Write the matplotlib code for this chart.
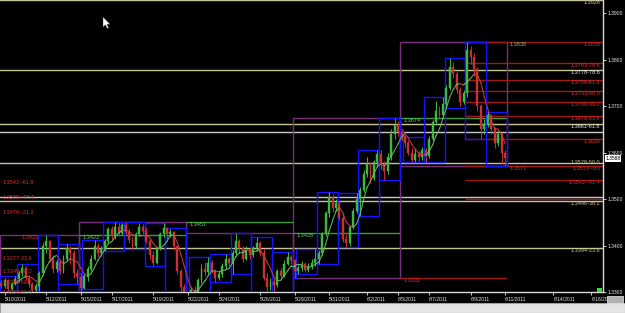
import matplotlib
matplotlib.use("Agg")
import matplotlib.pyplot as plt
from matplotlib.patches import Rectangle, Polygon
import numpy as np

# ---------------- data (4H candles, 5/10/2011 - 6/10/2011) ----------------
open0 = 1.3320
close = [
    # Tue 5/10
    1.3312, 1.3325, 1.3306, 1.3318, 1.3328,
    # Wed 5/11
    1.3340, 1.3352, 1.3331, 1.3318, 1.3305, 1.3312,
    # Thu 5/12
    1.3340, 1.3398, 1.3410, 1.3372, 1.3350, 1.3365,
    # Fri 5/13
    1.3345, 1.3372, 1.3395, 1.3385, 1.3340, 1.3332,
    # Sun 5/15
    1.3308,
    # Mon 5/16
    1.3335, 1.3350, 1.3372, 1.3400, 1.3385, 1.3392,
    # Tue 5/17
    1.3410, 1.3435, 1.3420, 1.3440, 1.3428, 1.3445,
    # Wed 5/18
    1.3430, 1.3412, 1.3398, 1.3425, 1.3440, 1.3432,
    # Thu 5/19
    1.3410, 1.3380, 1.3362, 1.3395, 1.3425, 1.3438,
    # Fri 5/20
    1.3425, 1.3430, 1.3398, 1.3345, 1.3310, 1.3298,
    # Sun 5/22
    1.3292,
    # Mon 5/23
    1.3305, 1.3298, 1.3325, 1.3350, 1.3342, 1.3362,
    # Tue 5/24
    1.3345, 1.3330, 1.3338, 1.3355, 1.3370, 1.3362,
    # Wed 5/25
    1.3385, 1.3410, 1.3395, 1.3372, 1.3390, 1.3380,
    # Thu 5/26
    1.3395, 1.3405, 1.3385, 1.3330, 1.3310, 1.3322,
    # Fri 5/27
    1.3315, 1.3345, 1.3335, 1.3360, 1.3375, 1.3368,
    # Sun 5/29
    1.3345,
    # Mon 5/30
    1.3352, 1.3360, 1.3348, 1.3356, 1.3362, 1.3370,
    # Tue 5/31
    1.3385, 1.3425, 1.3470, 1.3505, 1.3480, 1.3492,
    # Wed 6/1
    1.3460, 1.3415, 1.3405, 1.3440, 1.3475, 1.3500,
    # Thu 6/2
    1.3520, 1.3555, 1.3575, 1.3545, 1.3580, 1.3598,
    # Fri 6/3
    1.3575, 1.3560, 1.3590, 1.3640, 1.3660, 1.3645,
    # Sun 6/5
    1.3635,
    # Mon 6/6
    1.3620, 1.3600, 1.3585, 1.3598, 1.3590, 1.3605,
    # Tue 6/7
    1.3592, 1.3630, 1.3665, 1.3690, 1.3680, 1.3705,
    # Wed 6/8
    1.3740, 1.3785, 1.3770, 1.3735, 1.3710, 1.3728,
    # Thu 6/9
    1.3820, 1.3805, 1.3780, 1.3700, 1.3650, 1.3662,
    # Fri 6/10
    1.3680, 1.3650, 1.3620, 1.3640, 1.3600, 1.3588,
]
high = [
    1.3326, 1.3330, 1.3327, 1.3322, 1.3334,
    1.3345, 1.3360, 1.3356, 1.3336, 1.3322, 1.3320,
    1.3345, 1.3405, 1.3422, 1.3412, 1.3380, 1.3372,
    1.3370, 1.3380, 1.3403, 1.3400, 1.3390, 1.3350,
    1.3340,
    1.3340, 1.3356, 1.3380, 1.3411, 1.3405, 1.3398,
    1.3415, 1.3440, 1.3442, 1.3450, 1.3448, 1.3449,
    1.3451, 1.3435, 1.3418, 1.3430, 1.3448, 1.3446,
    1.3440, 1.3415, 1.3388, 1.3400, 1.3430, 1.3448,
    1.3438, 1.3436, 1.3432, 1.3400, 1.3350, 1.3318,
    1.3300,
    1.3310, 1.3312, 1.3330, 1.3360, 1.3365, 1.3375,
    1.3368, 1.3350, 1.3345, 1.3362, 1.3381, 1.3376,
    1.3390, 1.3428, 1.3415, 1.3400, 1.3398, 1.3395,
    1.3400, 1.3418, 1.3410, 1.3392, 1.3340, 1.3330,
    1.3330, 1.3350, 1.3352, 1.3368, 1.3386, 1.3380,
    1.3360,
    1.3358, 1.3366, 1.3364, 1.3362, 1.3370, 1.3392,
    1.3390, 1.3430, 1.3475, 1.3516, 1.3510, 1.3500,
    1.3495, 1.3468, 1.3425, 1.3445, 1.3480, 1.3514,
    1.3525, 1.3562, 1.3590, 1.3580, 1.3585, 1.3606,
    1.3605, 1.3582, 1.3600, 1.3650, 1.3674, 1.3668,
    1.3650,
    1.3634, 1.3628, 1.3610, 1.3608, 1.3604, 1.3612,
    1.3610, 1.3635, 1.3670, 1.3712, 1.3700, 1.3720,
    1.3745, 1.3804, 1.3795, 1.3775, 1.3742, 1.3735,
    1.3838, 1.3830, 1.3815, 1.3785, 1.3705, 1.3672,
    1.3688, 1.3684, 1.3655, 1.3648, 1.3642, 1.3605,
]
low = [
    1.3308, 1.3309, 1.3302, 1.3304, 1.3314,
    1.3322, 1.3334, 1.3326, 1.3310, 1.3300, 1.3301,
    1.3303, 1.3336, 1.3385, 1.3365, 1.3340, 1.3344,
    1.3338, 1.3340, 1.3368, 1.3360, 1.3330, 1.3317,
    1.3300,
    1.3306, 1.3324, 1.3345, 1.3368, 1.3375, 1.3378,
    1.3388, 1.3405, 1.3412, 1.3415, 1.3420, 1.3422,
    1.3425, 1.3405, 1.3392, 1.3395, 1.3420, 1.3425,
    1.3405, 1.3372, 1.3356, 1.3360, 1.3390, 1.3418,
    1.3415, 1.3418, 1.3390, 1.3338, 1.3288, 1.3290,
    1.3285,
    1.3288, 1.3290, 1.3295, 1.3320, 1.3335, 1.3338,
    1.3340, 1.3321, 1.3325, 1.3332, 1.3350, 1.3355,
    1.3339, 1.3380, 1.3385, 1.3365, 1.3368, 1.3372,
    1.3375, 1.3388, 1.3378, 1.3325, 1.3296, 1.3305,
    1.3300, 1.3310, 1.3328, 1.3332, 1.3358, 1.3360,
    1.3331,
    1.3339, 1.3345, 1.3342, 1.3344, 1.3350, 1.3355,
    1.3360, 1.3380, 1.3420, 1.3462, 1.3472, 1.3475,
    1.3455, 1.3408, 1.3396, 1.3400, 1.3435, 1.3470,
    1.3463, 1.3515, 1.3548, 1.3535, 1.3540, 1.3570,
    1.3565, 1.3542, 1.3555, 1.3585, 1.3630, 1.3635,
    1.3628,
    1.3612, 1.3595, 1.3579, 1.3580, 1.3582, 1.3585,
    1.3579, 1.3588, 1.3625, 1.3660, 1.3672, 1.3675,
    1.3696, 1.3735, 1.3760, 1.3728, 1.3700, 1.3705,
    1.3720, 1.3790, 1.3765, 1.3690, 1.3629, 1.3640,
    1.3655, 1.3640, 1.3610, 1.3615, 1.3575, 1.3571,
]
day_sizes = [5, 6, 6, 6,
             1, 6, 6, 6, 6, 6,
             1, 6, 6, 6, 6, 6,
             1, 6, 6, 6, 6, 6,
             1, 6, 6, 6, 6, 6]
week_sizes = [23, 31, 31, 31, 31]

date_labels = ["5/10/2011", "5/12/2011", "5/15/2011", "5/17/2011", "5/19/2011",
               "5/22/2011", "5/24/2011", "5/26/2011", "5/29/2011", "5/31/2011",
               "6/2/2011", "6/5/2011", "6/7/2011", "6/9/2011", "6/11/2011",
               "6/14/2011", "6/16/2011"]
date_idx = [1, 13, 23, 32, 44, 54, 63, 75, 85, 95, 106, 115, 124, 136, 146, 160, 171]

price_ticks = [1.3300, 1.3400, 1.3500, 1.3600, 1.3700, 1.3800, 1.3900]

# full-width horizontal fib levels
khaki_levels = [1.3928, 1.3778, 1.3661, 1.3578, 1.3496, 1.3394]
gray_levels = [1.3645, 1.3504]

# red fib lines on the right (start at Thu 6/9)
red_levels = [1.3838, 1.3793, 1.3756, 1.3733, 1.3708, 1.3678, 1.3629, 1.3572, 1.3542, 1.3500]
red_start_idx = 135

# right-side labels
right_texts = ["1.3928", "1.3838", "1.3793-78.6", "1.3778-78.6", "1.3756-61.8",
               "1.3733-50.0", "1.3708-38.2", "1.3678-23.6", "1.3661-61.8",
               "1.3629", "1.3578-50.0", "1.3572--0.0", "1.3542--41.4",
               "1.3496-38.2", "1.3394-23.6"]
right_vals = [1.3928, 1.3838, 1.3793, 1.3778, 1.3756, 1.3733, 1.3708, 1.3678, 1.3661,
              1.3629, 1.3578, 1.3572, 1.3542, 1.3496, 1.3394]
right_kind = ["k", "r", "r", "w", "r", "r", "r", "r", "w", "r", "k", "r", "r", "k", "k"]
right_va = ["top", "top", "top", "top", "top", "top", "top", "top", "top",
            "top", "center", "top", "top", "top", "top"]

# left-side red labels
left_texts = ["1.3542--61.8", "1.3509--47.4", "1.3476--21.2", "1.3377-23.6",
              "1.3349-38.2", "1.3326-50.0", "1.3304-61.8"]
left_vals = [1.3542, 1.3509, 1.3476, 1.3377, 1.3349, 1.3326, 1.3304]
left_mark_text = "1.3423"
left_mark_val = 1.3423
left_mark_idx = 6

last_price = close[-1]

# ---------------- style ----------------
BG = "black"
UP = "#3fb83f"
DN = "#c83232"
BLUE = "#1414ff"
PURPLE = "#7a2f7a"
KHAKI = "#c8c49a"
GRAY = "#c8c8c8"
FIBRED = "#a01818"
TXTRED = "#d83030"
GREEN_TXT = "#5fd35f"
FS = 4.0
FS_AX = 3.6
plt.rcParams["font.family"] = ["Liberation Sans", "DejaVu Sans"]

W, H = 625, 313
fig = plt.figure(figsize=(W / 100, H / 100), dpi=100, facecolor=BG)
ax = fig.add_axes([0, 21 / H, 603 / W, 292 / H], facecolor=BG)

n = len(close)
idx = np.arange(n)
opens = [open0] + close[:-1]
YMIN, YMAX = 1.33021, 1.39285


def ranges(sizes):
    out, s = [], 0
    for k in sizes:
        out.append((s, s + k - 1))
        s += k
    return out


days = ranges(day_sizes)
weeks = ranges(week_sizes)

# full-width level lines
for lv in khaki_levels:
    ax.axhline(lv, color=KHAKI, lw=1.0, zorder=1)
for lv in gray_levels:
    ax.axhline(lv, color=GRAY, lw=1.0, zorder=1)

# weekly boxes
for (s, e) in weeks:
    hi = max(high[s:e + 1]); lo = min(low[s:e + 1])
    ax.add_patch(Rectangle((s - 0.5, lo), e - s + 1, hi - lo, fill=False,
                           ec=PURPLE, lw=1.0, zorder=2))

# previous-week high / low carried into next week
for w in range(1, len(weeks)):
    ps, pe = weeks[w - 1]
    s, e = weeks[w]
    phi = max(high[ps:pe + 1]); plo = min(low[ps:pe + 1])
    ax.hlines(phi, s - 0.5, e + 0.5, color="#3c9a3c", lw=1.0, zorder=2)
    ax.hlines(plo, s - 0.5, e + 0.5, color=FIBRED, lw=1.0, zorder=2)
    ax.text(s + 0.5, phi, f"{phi:.4f}", color=GREEN_TXT, fontsize=FS, va="top", ha="left",
            zorder=6)
    if plo > YMIN + 0.0008:
        ax.text(s + 0.5, plo, f"{plo:.4f}", color=TXTRED, fontsize=FS, va="top", ha="left",
                zorder=6)

# current week high/low labels
s, e = weeks[-1]
whi = max(high[s:e + 1]); wlo = min(low[s:e + 1])
ax.text(e + 1.2, whi, f"{whi:.4f}", color=GREEN_TXT, fontsize=FS, va="top", ha="left", zorder=6)
ax.text(e + 1.2, wlo, f"{wlo:.4f}", color=TXTRED, fontsize=FS, va="top", ha="left", zorder=6)

# daily boxes
for (s, e) in days:
    hi = max(high[s:e + 1]); lo = min(low[s:e + 1])
    ax.add_patch(Rectangle((s - 0.5, lo), e - s + 1, hi - lo, fill=False,
                           ec=BLUE, lw=1.0, zorder=3))

# right red fib lines
for lv in red_levels:
    ax.hlines(lv, red_start_idx - 0.5, 200, color=FIBRED, lw=1.0, zorder=2)

# candles
for i in range(n):
    o, c = opens[i], close[i]
    col = UP if c >= o else DN
    ax.vlines(i, min(low[i], o, c), max(high[i], o, c), color=col, lw=0.7, zorder=4)
    ax.bar(i, c - o if abs(c - o) > 0.00005 else 0.00005, bottom=o, width=0.55,
           color=col, edgecolor=col, lw=0.3, zorder=4)

# moving average (5 closes), coloured by slope
ma = np.convolve(close, np.ones(5) / 5, mode="valid")
ma_x = idx[4:]
for k in range(1, len(ma)):
    col = "#62c262" if ma[k] >= ma[k - 1] else "#c84040"
    ax.plot(ma_x[k - 1:k + 1], ma[k - 1:k + 1], color=col, lw=0.7, zorder=5)

# right labels
ytr = ax.get_yaxis_transform()
cols = {"k": KHAKI, "r": TXTRED, "w": "#e8e8e8"}
for t, v, kk, va in zip(right_texts, right_vals, right_kind, right_va):
    ax.text(0.996, v, t, transform=ytr, color=cols[kk], fontsize=FS, ha="right", va=va,
            zorder=7)

# left labels
for t, v in zip(left_texts, left_vals):
    ax.text(0.004, v, t, transform=ytr, color=TXTRED, fontsize=FS, ha="left", va="top", zorder=7)
ax.text(left_mark_idx, left_mark_val, left_mark_text, color=TXTRED, fontsize=FS,
        ha="left", va="top", zorder=7)

# axes
ax.set_xlim(-0.4, 174.4)
ax.set_ylim(YMIN, YMAX)
for sp in ["top", "left"]:
    ax.spines[sp].set_visible(False)
for sp in ["right", "bottom"]:
    ax.spines[sp].set_color("#d8d8d8")
    ax.spines[sp].set_linewidth(1.0)
ax.yaxis.tick_right()
ax.set_yticks(price_ticks)
ax.set_yticklabels([f"{p:.4f}" for p in price_ticks])
ax.tick_params(axis="y", colors="#e8e8e8", labelsize=FS_AX, length=2, width=0.6, pad=1.5)
ax.set_xticks(date_idx)
ax.set_xticklabels(date_labels)
ax.tick_params(axis="x", colors="#e8e8e8", labelsize=FS_AX, length=2, width=0.6, pad=1.5)
for lab in ax.get_xticklabels():
    lab.set_ha("left")

# current price box
ax.text(1.004, last_price, f"{last_price:.4f}", transform=ytr, color="black", fontsize=FS_AX,
        ha="left", va="center", zorder=8,
        bbox=dict(fc="white", ec="none", pad=0.6))

# bottom scrollbar strip and small window widgets
fig.patches.append(Rectangle((0, 0), 1, 10 / H, transform=fig.transFigure,
                             fc="#e4e4e4", ec="#a0a0a0", lw=0.8, zorder=0))
fig.patches.append(Rectangle((607 / W, 10 / H), 16 / W, 7 / H, transform=fig.transFigure,
                             fc="#b0b0b0", ec="#f0f0f0", lw=0.5, zorder=10))
fig.patches.append(Rectangle((597 / W, 21 / H), 5 / W, 4 / H, transform=fig.transFigure,
                             fc="#30e030", ec="none", zorder=10))
# mouse pointer of the screenshot
cur = np.array([[103, 17], [103, 27], [105.5, 24.8], [107.2, 28.5], [108.6, 27.8],
                [107, 24.2], [110, 24.2]])
fig.patches.append(Polygon(np.column_stack([cur[:, 0] / W, 1 - cur[:, 1] / H]),
                           closed=True, transform=fig.transFigure, fc="white",
                           ec="#404040", lw=0.3, zorder=10))

fig.savefig("out.png", dpi=100, facecolor=BG)
